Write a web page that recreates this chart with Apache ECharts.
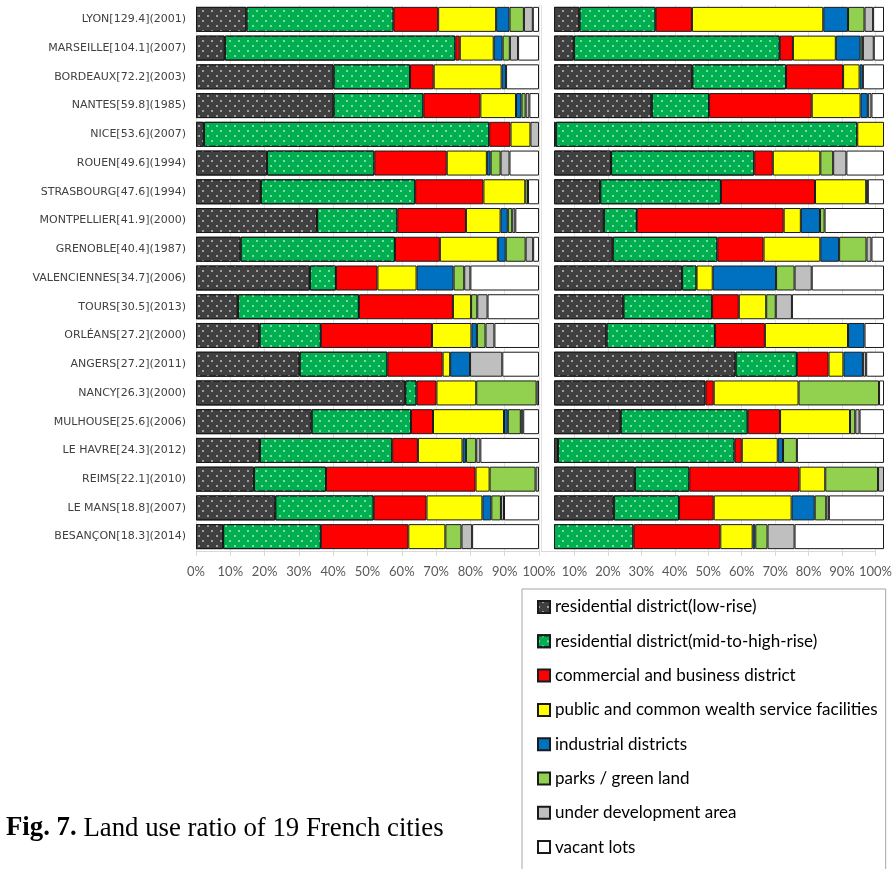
<!DOCTYPE html>
<html>
<head>
<meta charset="utf-8">
<script src="https://cdn.jsdelivr.net/npm/echarts@6/dist/echarts.min.js"></script>
<style>
  html, body { margin: 0; padding: 0; background: #fff; }
  #main { width: 895px; height: 869px; }
</style>
</head>
<body>
<div id="main"></div>
<script>
// cities, top to bottom
var cities = ['LYON[129.4](2001)', 'MARSEILLE[104.1](2007)', 'BORDEAUX[72.2](2003)', 'NANTES[59.8](1985)',
    'NICE[53.6](2007)', 'ROUEN[49.6](1994)', 'STRASBOURG[47.6](1994)', 'MONTPELLIER[41.9](2000)',
    'GRENOBLE[40.4](1987)', 'VALENCIENNES[34.7](2006)', 'TOURS[30.5](2013)', 'ORLÉANS[27.2](2000)',
    'ANGERS[27.2](2011)', 'NANCY[26.3](2000)', 'MULHOUSE[25.6](2006)', 'LE HAVRE[24.3](2012)',
    'REIMS[22.1](2010)', 'LE MANS[18.8](2007)', 'BESANÇON[18.3](2014)'];

var landUses = ['residential district(low-rise)', 'residential district(mid-to-high-rise)',
    'commercial and business district', 'public and common wealth service facilities',
    'industrial districts', 'parks / green land', 'under development area', 'vacant lots'];

var xTicks = [0, 10, 20, 30, 40, 50, 60, 70, 80, 90, 100];

// left panel (%)
var leftLowRise   = [14.7, 8.4, 40.1, 40.1, 2.3, 20.7, 18.9, 35.3, 13.0, 33.2, 12.2, 18.5, 30.2, 61.0, 33.7, 18.6, 16.9, 23.1, 7.9];
var leftMidHigh   = [42.9, 67.2, 22.3, 26.2, 83.2, 31.3, 45.0, 23.4, 45.0, 7.6, 35.3, 17.9, 25.6, 3.3, 29.0, 38.6, 21.0, 28.7, 28.5];
var leftCommerce  = [13.0, 1.3, 6.9, 16.6, 6.2, 21.1, 19.9, 20.0, 13.1, 12.1, 27.4, 32.4, 16.1, 5.8, 6.4, 7.5, 43.6, 15.4, 25.5];
var leftPublic    = [16.9, 9.9, 19.8, 10.4, 5.8, 11.7, 12.2, 10.1, 16.9, 11.4, 5.3, 11.5, 2.2, 11.6, 20.7, 13.0, 4.1, 16.3, 10.8];
var leftIndustry  = [3.9, 2.6, 1.3, 1.6, 0, 1.1, 0, 2.1, 2.3, 10.8, 0, 1.6, 5.8, 0, 1.1, 1.0, 0, 2.6, 0];
var leftParks     = [4.2, 2.1, 0, 1.2, 0, 2.9, 0.8, 1.3, 5.8, 3.1, 1.8, 2.5, 0, 17.6, 3.8, 3.0, 13.4, 2.8, 4.7];
var leftUnderDev  = [2.6, 2.4, 0, 1.1, 2.5, 2.6, 0, 0.9, 2.2, 1.8, 3.0, 2.6, 9.4, 0.7, 0.7, 1.2, 1.0, 0.9, 3.1];
var leftVacant    = [1.8, 6.1, 9.6, 2.8, 0, 8.6, 3.2, 6.9, 1.7, 20.0, 15.0, 13.0, 10.7, 0, 4.6, 17.1, 0, 10.2, 19.5];

// right panel (%)
var rightLowRise  = [7.7, 6.0, 41.9, 29.6, 0.5, 17.3, 14.0, 15.1, 17.8, 38.8, 21.0, 15.9, 55.0, 45.9, 20.2, 1.2, 24.5, 18.1, 0];
var rightMidHigh  = [23.1, 62.4, 28.4, 17.4, 91.4, 43.4, 36.6, 10.0, 31.7, 4.4, 26.9, 32.9, 18.6, 0, 38.5, 53.5, 16.5, 19.8, 24.1];
var rightCommerce = [11.0, 4.0, 17.3, 31.1, 0, 5.6, 28.5, 44.5, 14.0, 0, 8.1, 15.1, 9.6, 2.5, 9.8, 2.2, 33.4, 10.5, 26.3];
var rightPublic   = [39.8, 13.0, 5.0, 14.8, 8.1, 14.4, 15.5, 5.2, 17.2, 4.9, 8.3, 25.2, 4.5, 25.7, 21.2, 10.9, 7.8, 23.6, 9.8];
var rightIndustry = [7.5, 7.5, 1.0, 2.2, 0, 0, 0.5, 5.8, 5.7, 19.2, 0, 5.0, 5.9, 0, 0, 1.6, 0, 7.0, 0.8];
var rightParks    = [5.0, 0.7, 0, 0, 0, 3.9, 0, 1.4, 8.3, 5.6, 2.9, 0, 0, 24.4, 1.6, 4.2, 16.0, 3.5, 3.7];
var rightUnderDev = [2.6, 3.3, 0, 1.1, 0, 4.0, 0, 0, 1.5, 5.2, 4.9, 0, 1.0, 0, 1.3, 0, 1.8, 0.8, 8.2];
var rightVacant   = [3.3, 3.1, 6.4, 3.8, 0, 11.4, 4.9, 18.0, 3.8, 21.9, 27.9, 5.9, 5.4, 1.5, 7.4, 26.4, 0, 16.7, 27.1];

var leftSets = [leftLowRise, leftMidHigh, leftCommerce, leftPublic, leftIndustry, leftParks, leftUnderDev, leftVacant];
var rightSets = [rightLowRise, rightMidHigh, rightCommerce, rightPublic, rightIndustry, rightParks, rightUnderDev, rightVacant];
var colors = ['#404040', '#00b050', '#ff0000', '#ffff00', '#0070c0', '#92d050', '#bfbfbf', '#ffffff'];

// white dot texture on the two residential classes
var dots = {
    symbol: 'rect',
    symbolSize: 1,
    color: 'rgba(255,255,255,0.5)',
    dashArrayX: [[1.3, 6.7], [0, 4, 1.3, 2.7]],
    dashArrayY: [1.3, 2.7]
};

var chart = echarts.init(document.getElementById('main'));

function makeSeries(sets, gridIdx, stack) {
    return sets.map(function (vals, i) {
        var style = { color: colors[i], borderColor: '#1a1a1a', borderWidth: 1 };
        if (i < 2) style.decal = dots;
        return {
            name: landUses[i],
            type: 'bar',
            stack: stack,
            xAxisIndex: gridIdx,
            yAxisIndex: gridIdx,
            barWidth: 25,
            itemStyle: style,
            emphasis: { disabled: true },
            data: vals.map(function (v) { return v === 0 ? '-' : v; })
        };
    });
}

var axisFont = { fontFamily: 'Lato', fontSize: 13, color: '#595959' };

function valueAxis(gridIdx, showLabels, showSplit) {
    return {
        type: 'value', gridIndex: gridIdx, min: 0, max: 100, interval: 10,
        axisLine: { show: showLabels, lineStyle: { color: '#d9d9d9' } },
        axisTick: { show: showLabels, length: 5, lineStyle: { color: '#d9d9d9' } },
        axisLabel: Object.assign({ show: showLabels, margin: 14, formatter: '{value}%' }, axisFont),
        splitLine: { show: showSplit, lineStyle: { color: '#e3e3e3' } }
    };
}

function catAxis(gridIdx, showLabels) {
    return {
        type: 'category', gridIndex: gridIdx, data: cities, inverse: true,
        axisLine: { show: false }, axisTick: { show: false },
        axisLabel: { show: showLabels, fontFamily: 'DejaVu Sans', fontSize: 11, color: '#404040', margin: 10 }
    };
}

var rightTickAxis = valueAxis(2, true, true);
rightTickAxis.axisLabel.showMinLabel = false;

var option = {
    animation: false,
    title: {
        left: 6, top: 815, padding: 0,
        text: '{b|Fig. 7.} Land use ratio of 19 French cities',
        textStyle: {
            fontFamily: 'Liberation Serif', fontSize: 26.8, fontWeight: 'normal', color: '#000',
            rich: { b: { fontFamily: 'Liberation Serif', fontSize: 26.8, fontWeight: 'bold', color: '#000' } }
        }
    },
    legend: {
        data: landUses,
        orient: 'vertical',
        left: 522, top: 589,
        height: 320,
        padding: [8, 8, 30, 15],
        borderColor: '#a6a6a6', borderWidth: 1,
        itemWidth: 12, itemHeight: 12, itemGap: 14.3,
        icon: 'rect',
        selectedMode: false,
        textStyle: { fontFamily: 'Lato', fontSize: 17, color: '#000', lineHeight: 20 }
    },
    grid: [
        { left: 196, width: 343, top: 5, height: 546 },
        { left: 554, width: 330, top: 5, height: 546 },
        { left: 541, width: 343, top: 5, height: 546 }
    ],
    xAxis: [valueAxis(0, true, true), valueAxis(1, false, false), rightTickAxis],
    yAxis: [catAxis(0, true), catAxis(1, false), catAxis(2, false)],
    series: makeSeries(leftSets, 0, 'left').concat(makeSeries(rightSets, 1, 'right'))
};

chart.setOption(option);
</script>
</body>
</html>
